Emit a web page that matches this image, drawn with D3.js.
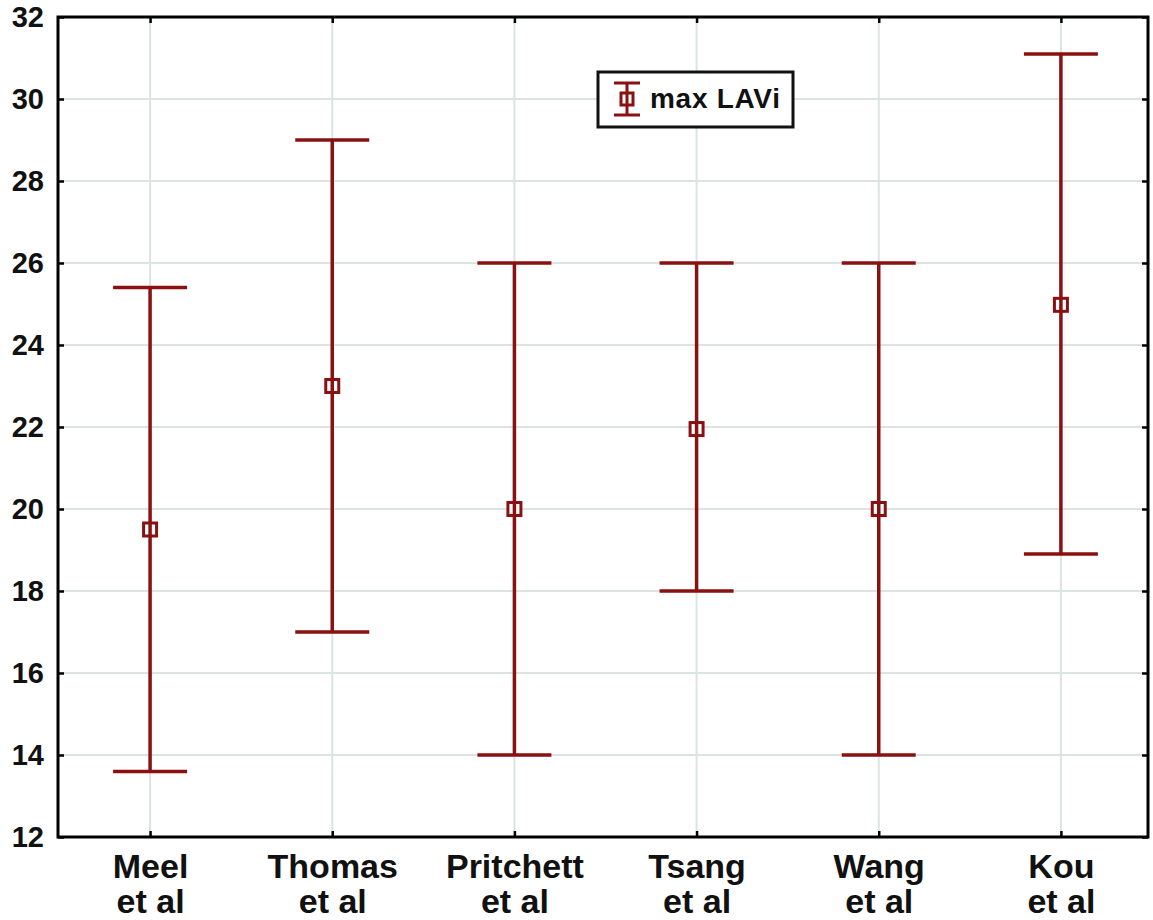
<!DOCTYPE html>
<html>
<head>
<meta charset="utf-8">
<script src="https://cdn.jsdelivr.net/npm/d3@7"></script>
<style>
  html, body { margin: 0; padding: 0; background: #fff; }
  svg { display: block; font-family: "Liberation Sans", Arial, sans-serif; font-weight: bold; }
</style>
</head>
<body>
<svg id="chart" width="1153" height="920"></svg>
<script>
// Study labels (two lines each) and the maxLAVi summary values
const studies = ["Meel", "Thomas", "Pritchett", "Tsang", "Wang", "Kou"];
const studySuffix = "et al";
const means = [19.5, 23.0, 20.0, 21.95, 20.0, 24.98];
const lower = [13.6, 17.0, 14.0, 18.0, 14.0, 18.9];
const upper = [25.4, 29.0, 26.0, 26.0, 26.0, 31.1];
const yTicks = [12, 14, 16, 18, 20, 22, 24, 26, 28, 30, 32];
const seriesName = "max LAVi";

const red = "#8a1111";
const grid = "#dce4e1";

const svg = d3.select("#chart");
const plotLeft = 58, plotRight = 1148, plotTop = 17, plotBottom = 837;

const x = d3.scalePoint().domain(studies).range([59, 1152]).padding(0.5);
const y = d3.scaleLinear().domain([12, 32]).range([plotBottom, plotTop]);

// Grid lines
const g = svg.append("g");
g.selectAll("line.hg").data(yTicks.slice(1, -1)).join("line")
  .attr("x1", plotLeft).attr("x2", plotRight)
  .attr("y1", d => y(d)).attr("y2", d => y(d))
  .attr("stroke", grid).attr("stroke-width", 2);
g.selectAll("line.vg").data(studies).join("line")
  .attr("x1", d => x(d)).attr("x2", d => x(d))
  .attr("y1", plotTop).attr("y2", plotBottom)
  .attr("stroke", grid).attr("stroke-width", 2);

// Left axis with inward ticks
const yAxis = svg.append("g").attr("transform", `translate(${plotLeft},0)`)
  .call(d3.axisLeft(y).tickValues(yTicks).tickSize(-6).tickPadding(14).tickFormat(d3.format("d")));
yAxis.select(".domain").remove();
yAxis.selectAll(".tick line").attr("stroke", "#000").attr("stroke-width", 2.5);
yAxis.selectAll(".tick text").attr("font-size", 29).attr("font-weight", "bold")
  .attr("fill", "#111").attr("font-family", "Liberation Sans, Arial, sans-serif");

// Right axis ticks
const yAxisR = svg.append("g").attr("transform", `translate(${plotRight},0)`)
  .call(d3.axisRight(y).tickValues(yTicks).tickSize(-6).tickFormat(""));
yAxisR.select(".domain").remove();
yAxisR.selectAll(".tick line").attr("stroke", "#000").attr("stroke-width", 2.5);

// Bottom axis ticks and two-line labels
const xAxis = svg.append("g").attr("transform", `translate(0,${plotBottom})`)
  .call(d3.axisBottom(x).tickSize(-6).tickFormat(""));
xAxis.select(".domain").remove();
xAxis.selectAll(".tick line").attr("stroke", "#000").attr("stroke-width", 2.5);
xAxis.selectAll(".tick").append("text")
  .attr("text-anchor", "middle").attr("fill", "#111").attr("font-size", 34)
  .attr("font-weight", "bold").attr("font-family", "Liberation Sans, Arial, sans-serif")
  .each(function(d) {
    const t = d3.select(this);
    t.append("tspan").attr("x", 0).attr("y", 41).text(d);
    t.append("tspan").attr("x", 0).attr("y", 76).text(studySuffix);
  });

// Top axis ticks
const xAxisT = svg.append("g").attr("transform", `translate(0,${plotTop})`)
  .call(d3.axisTop(x).tickSize(-6).tickFormat(""));
xAxisT.select(".domain").remove();
xAxisT.selectAll(".tick line").attr("stroke", "#000").attr("stroke-width", 2.5);

// Frame
svg.append("rect").attr("x", plotLeft).attr("y", plotTop)
  .attr("width", plotRight - plotLeft).attr("height", plotBottom - plotTop)
  .attr("fill", "none").attr("stroke", "#000").attr("stroke-width", 3);

// Error bars
const capHalf = 37;
const data = studies.map((s, i) => ({ s, m: means[i], lo: lower[i], hi: upper[i] }));
const bars = svg.append("g").selectAll("g").data(data).join("g");
bars.append("line")
  .attr("x1", d => x(d.s)).attr("x2", d => x(d.s))
  .attr("y1", d => y(d.lo)).attr("y2", d => y(d.hi))
  .attr("stroke", red).attr("stroke-width", 3.5);
bars.append("line")
  .attr("x1", d => x(d.s) - capHalf).attr("x2", d => x(d.s) + capHalf)
  .attr("y1", d => y(d.hi)).attr("y2", d => y(d.hi))
  .attr("stroke", red).attr("stroke-width", 3.5);
bars.append("line")
  .attr("x1", d => x(d.s) - capHalf).attr("x2", d => x(d.s) + capHalf)
  .attr("y1", d => y(d.lo)).attr("y2", d => y(d.lo))
  .attr("stroke", red).attr("stroke-width", 3.5);
bars.append("rect")
  .attr("x", d => x(d.s) - 6.5).attr("y", d => y(d.m) - 6.5)
  .attr("width", 13).attr("height", 13)
  .attr("fill", "#fff").attr("stroke", red).attr("stroke-width", 3);
bars.append("line")
  .attr("x1", d => x(d.s)).attr("x2", d => x(d.s))
  .attr("y1", d => y(d.m) - 6.5).attr("y2", d => y(d.m) + 6.5)
  .attr("stroke", red).attr("stroke-width", 3.5);

// Legend
const lg = svg.append("g").attr("transform", "translate(598,72)");
lg.append("rect").attr("width", 195).attr("height", 55)
  .attr("fill", "#fff").attr("stroke", "#111").attr("stroke-width", 3);
const lx = 29, ly = 27;
lg.append("line").attr("x1", lx).attr("x2", lx).attr("y1", ly - 16).attr("y2", ly + 16)
  .attr("stroke", red).attr("stroke-width", 3);
lg.append("line").attr("x1", lx - 13).attr("x2", lx + 13).attr("y1", ly - 16).attr("y2", ly - 16)
  .attr("stroke", red).attr("stroke-width", 3);
lg.append("line").attr("x1", lx - 13).attr("x2", lx + 13).attr("y1", ly + 16).attr("y2", ly + 16)
  .attr("stroke", red).attr("stroke-width", 3);
lg.append("rect").attr("x", lx - 6).attr("y", ly - 6).attr("width", 12).attr("height", 12)
  .attr("fill", "#fff").attr("stroke", red).attr("stroke-width", 3);
lg.append("line").attr("x1", lx).attr("x2", lx).attr("y1", ly - 6).attr("y2", ly + 6)
  .attr("stroke", red).attr("stroke-width", 3);
lg.append("text").attr("x", 52).attr("y", 36).attr("font-size", 28)
  .attr("fill", "#111").attr("textLength", 130).text(seriesName);
</script>
</body>
</html>
